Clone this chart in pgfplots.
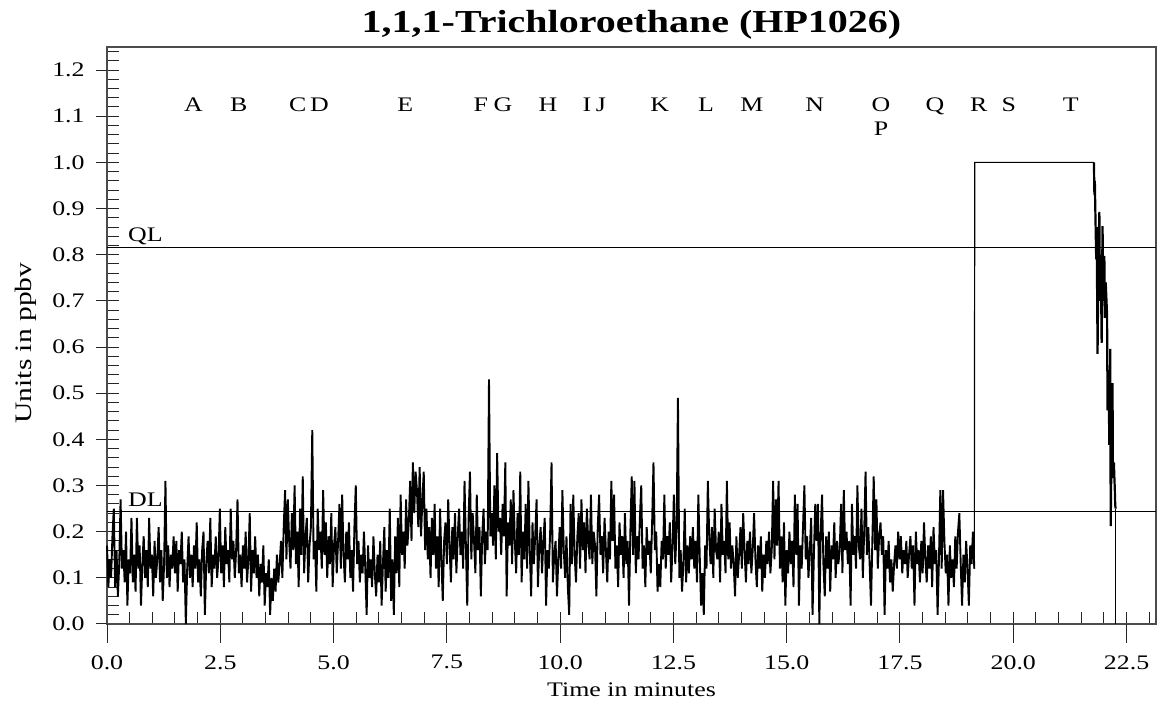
\documentclass[border=0pt]{standalone}
\usepackage{pgfplots}
\usepackage{pgfplotstable}
\pgfplotsset{compat=1.18}
\usepackage{fontspec}
\setmainfont{Liberation Serif}[FakeStretch=1.25]
\newcommand\tl{\fontsize{10.35}{12}\selectfont}

\pgfplotstableread[row sep=\\]{
y\\
0.17\\0.08\\0.14\\0.10\\0.19\\0.25\\0.08\\0.16\\0.06\\0.13\\
0.27\\0.12\\0.16\\0.09\\0.20\\0.04\\0.14\\0.11\\0.23\\0.09\\
0.15\\0.07\\0.23\\0.12\\0.17\\0.04\\0.13\\0.19\\0.10\\0.16\\
0.08\\0.23\\0.12\\0.15\\0.06\\0.18\\0.10\\0.14\\0.21\\0.09\\
0.16\\0.05\\0.13\\0.31\\0.10\\0.17\\0.08\\0.15\\0.12\\0.19\\
0.11\\0.18\\0.07\\0.16\\0.13\\0.20\\0.09\\0.14\\0.00\\0.12\\
0.19\\0.10\\0.15\\0.08\\0.17\\0.12\\0.22\\0.09\\0.14\\0.06\\
0.16\\0.20\\0.02\\0.13\\0.18\\0.11\\0.23\\0.08\\0.15\\0.12\\
0.19\\0.10\\0.14\\0.25\\0.11\\0.17\\0.08\\0.21\\0.13\\0.16\\
0.09\\0.25\\0.14\\0.18\\0.10\\0.16\\0.27\\0.11\\0.15\\0.08\\
0.17\\0.12\\0.20\\0.09\\0.14\\0.24\\0.07\\0.16\\0.11\\0.19\\
0.10\\0.15\\0.06\\0.13\\0.09\\0.17\\0.04\\0.11\\0.08\\0.14\\
0.02\\0.10\\0.05\\0.12\\0.07\\0.15\\0.09\\0.13\\0.18\\0.10\\
0.21\\0.29\\0.14\\0.27\\0.18\\0.12\\0.24\\0.16\\0.30\\0.13\\
0.20\\0.08\\0.25\\0.15\\0.32\\0.11\\0.19\\0.23\\0.09\\0.17\\
0.21\\0.42\\0.14\\0.18\\0.07\\0.25\\0.16\\0.20\\0.12\\0.29\\
0.15\\0.22\\0.10\\0.19\\0.13\\0.24\\0.08\\0.17\\0.21\\0.11\\
0.18\\0.26\\0.12\\0.28\\0.15\\0.09\\0.20\\0.14\\0.22\\0.10\\
0.16\\0.07\\0.21\\0.30\\0.13\\0.18\\0.09\\0.15\\0.11\\0.20\\
0.12\\0.02\\0.17\\0.10\\0.14\\0.08\\0.19\\0.11\\0.06\\0.15\\
0.09\\0.18\\0.04\\0.13\\0.21\\0.07\\0.16\\0.10\\0.25\\0.05\\
0.14\\0.02\\0.19\\0.11\\0.23\\0.08\\0.28\\0.15\\0.20\\0.12\\
0.27\\0.17\\0.22\\0.31\\0.18\\0.35\\0.24\\0.33\\0.29\\0.21\\
0.34\\0.19\\0.27\\0.33\\0.16\\0.25\\0.14\\0.21\\0.10\\0.23\\
0.15\\0.26\\0.12\\0.19\\0.08\\0.25\\0.14\\0.05\\0.18\\0.22\\
0.13\\0.27\\0.17\\0.09\\0.21\\0.14\\0.24\\0.11\\0.19\\0.25\\
0.15\\0.20\\0.12\\0.31\\0.17\\0.04\\0.23\\0.33\\0.14\\0.24\\
0.18\\0.11\\0.28\\0.16\\0.21\\0.06\\0.19\\0.25\\0.13\\0.20\\
0.16\\0.53\\0.19\\0.24\\0.17\\0.30\\0.14\\0.37\\0.20\\0.23\\
0.15\\0.26\\0.19\\0.35\\0.06\\0.22\\0.17\\0.27\\0.13\\0.29\\
0.18\\0.11\\0.24\\0.15\\0.33\\0.09\\0.20\\0.14\\0.26\\0.12\\
0.31\\0.16\\0.06\\0.22\\0.13\\0.19\\0.27\\0.08\\0.17\\0.21\\
0.11\\0.18\\0.23\\0.04\\0.16\\0.12\\0.20\\0.35\\0.09\\0.15\\
0.18\\0.06\\0.14\\0.21\\0.12\\0.29\\0.16\\0.10\\0.19\\0.08\\
0.02\\0.26\\0.13\\0.28\\0.15\\0.09\\0.19\\0.24\\0.12\\0.27\\
0.16\\0.22\\0.11\\0.25\\0.18\\0.14\\0.28\\0.13\\0.20\\0.17\\
0.06\\0.21\\0.28\\0.15\\0.19\\0.11\\0.23\\0.16\\0.09\\0.20\\
0.14\\0.31\\0.18\\0.28\\0.12\\0.17\\0.08\\0.22\\0.15\\0.19\\
0.10\\0.24\\0.13\\0.18\\0.04\\0.20\\0.32\\0.15\\0.31\\0.11\\
0.19\\0.14\\0.23\\0.30\\0.12\\0.17\\0.08\\0.21\\0.15\\0.18\\
0.11\\0.22\\0.35\\0.16\\0.20\\0.07\\0.13\\0.08\\0.18\\0.14\\
0.28\\0.12\\0.19\\0.15\\0.22\\0.09\\0.17\\0.28\\0.13\\0.20\\
0.49\\0.10\\0.16\\0.07\\0.13\\0.25\\0.09\\0.17\\0.11\\0.19\\
0.14\\0.21\\0.12\\0.18\\0.09\\0.28\\0.15\\0.04\\0.11\\0.02\\
0.17\\0.12\\0.31\\0.19\\0.13\\0.21\\0.10\\0.25\\0.16\\0.14\\
0.20\\0.09\\0.26\\0.15\\0.18\\0.11\\0.31\\0.14\\0.22\\0.12\\
0.17\\0.13\\0.06\\0.19\\0.10\\0.15\\0.21\\0.12\\0.24\\0.16\\
0.09\\0.18\\0.13\\0.20\\0.11\\0.16\\0.24\\0.14\\0.08\\0.17\\
0.12\\0.19\\0.07\\0.15\\0.10\\0.18\\0.13\\0.20\\0.11\\0.16\\
0.31\\0.14\\0.27\\0.17\\0.31\\0.12\\0.19\\0.09\\0.22\\0.04\\
0.16\\0.11\\0.20\\0.13\\0.18\\0.08\\0.28\\0.15\\0.26\\0.04\\
0.17\\0.12\\0.21\\0.30\\0.14\\0.19\\0.10\\0.16\\0.23\\0.02\\
0.15\\0.26\\0.18\\0.26\\0.00\\0.20\\0.28\\0.13\\0.06\\0.19\\
0.12\\0.20\\0.07\\0.17\\0.14\\0.22\\0.10\\0.18\\0.13\\0.16\\
0.26\\0.11\\0.29\\0.16\\0.20\\0.13\\0.18\\0.04\\0.26\\0.15\\
0.19\\0.12\\0.30\\0.17\\0.14\\0.25\\0.10\\0.20\\0.33\\0.15\\
0.21\\0.13\\0.04\\0.18\\0.32\\0.16\\0.27\\0.12\\0.19\\0.22\\
0.15\\0.19\\0.02\\0.16\\0.12\\0.18\\0.09\\0.14\\0.07\\0.13\\
0.17\\0.12\\0.20\\0.14\\0.19\\0.11\\0.16\\0.13\\0.18\\0.10\\
0.15\\0.19\\0.12\\0.17\\0.04\\0.20\\0.13\\0.16\\0.09\\0.18\\
0.11\\0.22\\0.14\\0.09\\0.17\\0.12\\0.19\\0.08\\0.21\\0.13\\
0.16\\0.02\\0.14\\0.29\\0.12\\0.29\\0.18\\0.11\\0.15\\0.04\\
0.17\\0.10\\0.14\\0.08\\0.19\\0.12\\0.20\\0.24\\0.13\\0.04\\
0.15\\0.09\\0.18\\0.12\\0.04\\0.17\\0.13\\0.20\\0.12\\
}\noise

\pgfplotsset{
  base/.style={scale only axis, width=524.5pt, height=288.5pt,
    xmin=0, xmax=23.15, ymin=0, ymax=1.25},
  numfmt/.style={/pgf/number format/.cd, fixed, fixed zerofill, precision=1, assume math mode=true},
}
\tikzset{lab/.style={anchor=base, inner sep=0pt, font=\tl}}

\begin{document}
\begin{tikzpicture}
% main axis: frame, inner ticks, data
\begin{axis}[base,
  tick align=inside, major tick length=6pt, minor tick length=6pt,
  xtick={0,2.5,5,7.5,10,12.5,15,17.5,20,22.5},
  minor xtick={0.5,1,1.5,2,3,3.5,4,4.5,5.5,6,6.5,7,8,8.5,9,9.5,10.5,11,11.5,12,13,13.5,14,14.5,15.5,16,16.5,17,18,18.5,19,19.5,20.5,21,21.5,22,23},
  ytick={0,0.1,0.2,0.3,0.4,0.5,0.6,0.7,0.8,0.9,1.0,1.1,1.2},
  minor ytick={0.02,0.04,0.06,0.08,0.12,0.14,0.16,0.18,0.22,0.24,0.26,0.28,0.32,0.34,0.36,0.38,0.42,0.44,0.46,0.48,0.52,0.54,0.56,0.58,0.62,0.64,0.66,0.68,0.72,0.74,0.76,0.78,0.82,0.84,0.86,0.88,0.92,0.94,0.96,0.98,1.02,1.04,1.06,1.08,1.12,1.14,1.16,1.18,1.22,1.24},
  xtick pos=bottom, ytick pos=left,
  xticklabels={}, yticklabels={},
  tick style={black!85, line width=0.5pt},
  axis line style={black!70, line width=0.6pt},
  clip=false,
]
\coordinate (SW) at (rel axis cs:0,0);
\coordinate (NE) at (rel axis cs:1,1);
% QL and DL lines
\addplot[black, line width=0.65pt] coordinates {(0,0.816) (23.15,0.816)};
\addplot[black, line width=0.65pt] coordinates {(0,0.2443) (23.15,0.2443)};
% noise trace
\addplot[black, line width=0.95pt, line join=bevel] table[x expr=\coordindex*0.03, y=y] {\noise};
% high-concentration segment
\addplot[black, line width=0.6pt] coordinates {(19.14,0.12) (19.15,1.0) (21.78,1.0)};
\addplot[black, line width=1.1pt, line join=bevel] coordinates {
 (21.78,1.0) (21.79,0.93) (21.80,0.96) (21.81,0.90)
 (21.83,0.79) (21.84,0.86) (21.86,0.585) (21.88,0.80) (21.90,0.893) (21.91,0.70)
 (21.93,0.80) (21.95,0.609) (21.96,0.75) (21.97,0.862) (21.99,0.70) (22.01,0.797)
 (22.02,0.663) (22.04,0.74) (22.07,0.67) (22.08,0.463) (22.10,0.55) (22.12,0.388)
 (22.14,0.596) (22.15,0.212) (22.17,0.40) (22.19,0.522) (22.20,0.316) (22.22,0.35)
 (22.24,0.294) (22.25,0.257) (22.26,0.25)};
\addplot[black, line width=0.6pt] coordinates {(22.26,0.25) (22.26,0.0)};
% labels
\node[anchor=base west, inner sep=0pt, font=\tl] at (axis cs:0.46,0.828) {QL};
\node[anchor=base west, inner sep=0pt, font=\tl] at (axis cs:0.46,0.2536) {DL};
\node[lab] at (axis cs:1.91,1.110) {A};
\node[lab] at (axis cs:2.91,1.110) {B};
\node[lab] at (axis cs:4.21,1.110) {C};
\node[lab] at (axis cs:4.69,1.110) {D};
\node[lab] at (axis cs:6.58,1.110) {E};
\node[lab] at (axis cs:8.25,1.110) {F};
\node[lab] at (axis cs:8.74,1.110) {G};
\node[lab] at (axis cs:9.73,1.110) {H};
\node[lab] at (axis cs:10.59,1.110) {I};
\node[lab] at (axis cs:10.90,1.110) {J};
\node[lab] at (axis cs:12.20,1.110) {K};
\node[lab] at (axis cs:13.22,1.110) {L};
\node[lab] at (axis cs:14.23,1.110) {M};
\node[lab] at (axis cs:15.62,1.110) {N};
\node[lab] at (axis cs:17.08,1.110) {O};
\node[lab] at (axis cs:17.08,1.059) {P};
\node[lab] at (axis cs:18.27,1.110) {Q};
\node[lab] at (axis cs:19.24,1.110) {R};
\node[lab] at (axis cs:19.90,1.110) {S};
\node[lab] at (axis cs:21.27,1.110) {T};
\node[anchor=base, inner sep=0pt, font=\fontsize{16}{19}\selectfont\bfseries] at ([yshift=7pt]rel axis cs:0.5,1) {1,1,1-Trichloroethane (HP1026)};
\node[lab] at ([yshift=-36.5pt]rel axis cs:0.5,0) {Time in minutes};
\node[rotate=90, inner sep=0pt, font=\fontsize{11.8}{14}\selectfont] at ([xshift=-40.75pt]rel axis cs:0,0.487) {Units in ppbv};
\end{axis}
% outward x ticks with labels
\begin{axis}[base, numfmt,
  axis line style={draw=none},
  tick align=outside, major tick length=9.5pt,
  xtick={0,2.5,5,7.5,10,12.5,15,17.5,20,22.5}, ytick=\empty,
  xtick pos=bottom,
  tick style={black!85, line width=0.5pt},
  xticklabel style={font=\tl, anchor=north, inner sep=0pt, yshift=-6pt},
]
\end{axis}
% outward y ticks with labels
\begin{axis}[base, numfmt,
  axis line style={draw=none},
  tick align=outside, major tick length=5.5pt,
  ytick={0,0.1,0.2,0.3,0.4,0.5,0.6,0.7,0.8,0.9,1.0,1.1,1.2}, xtick=\empty,
  ytick pos=left,
  tick style={black!85, line width=0.5pt},
  yticklabel style={font=\tl, anchor=east, inner sep=0pt, xshift=-5.5pt},
]
\end{axis}
\pgfresetboundingbox
\path ([shift={(-53.5pt,-40pt)}]SW) rectangle ([shift={(1.5pt,23.5pt)}]NE);
\end{tikzpicture}
\end{document}
